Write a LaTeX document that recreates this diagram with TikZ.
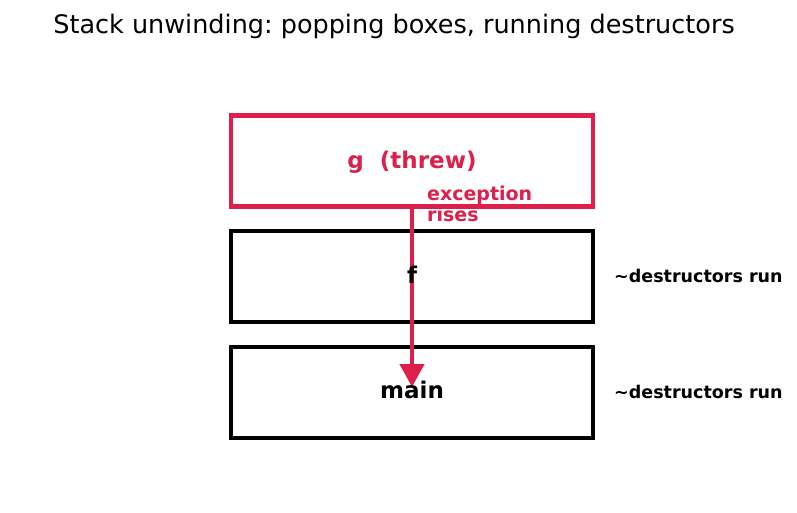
\documentclass[tikz,border=0pt]{standalone}
\usepackage{fontspec}
\setmainfont{DejaVu Sans}
\frenchspacing
\usetikzlibrary{arrows.meta}
\definecolor{crim}{HTML}{DC1F4B}
\tikzset{
  frame/.style={draw=black, line width=4.5pt, minimum width=362pt, minimum height=91pt, inner sep=0pt},
  lbl/.style={font=\bfseries\fontsize{23}{27}\selectfont, anchor=base, inner sep=0pt},
  side/.style={font=\bfseries\fontsize{17.5}{21}\selectfont, anchor=base west, inner sep=0pt},
}
\begin{document}
\begin{tikzpicture}[x=1pt,y=-1pt]
\useasboundingbox (0,0) rectangle (797,512);
\node[font=\fontsize{25.5}{30}\selectfont, anchor=base, inner sep=0pt] (title) at (394,33) {Stack unwinding: popping boxes, running destructors};
\node[frame, draw=crim] (g) at (412,161) {};
\node[frame] (f) at (412,276.5) {};
\node[frame] (m) at (412,392.5) {};
\coordinate (s) at (g.south);
\coordinate (e) at (412,387);
\draw[crim, line width=4.5pt, -{Triangle[length=23pt,width=24pt]}] (s) -- (e);
\node[lbl, text=crim] (gl) at (412,168) {g\ \ (threw)};
\node[lbl] (fl) at (412,283) {f};
\node[lbl] (ml) at (412,398) {main};
\node[side, text=crim, align=left, font=\bfseries\fontsize{19}{21}\selectfont] (ex) at (427,221) {exception\\rises};
\node[side] (d1) at (614,282) {\textasciitilde destructors run};
\node[side] (d2) at (614,398) {\textasciitilde destructors run};
\end{tikzpicture}
\end{document}
